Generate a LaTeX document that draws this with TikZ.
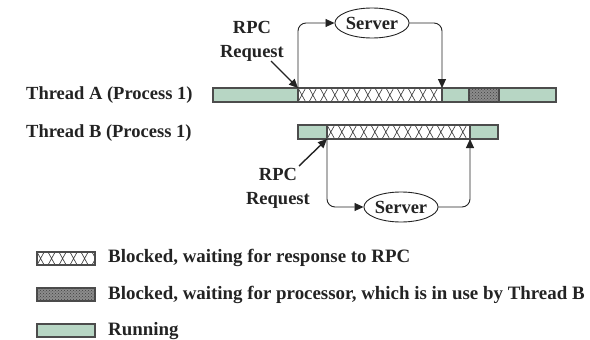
\documentclass[tikz,border=0pt]{standalone}
\usepackage{fontspec}
\setmainfont{Liberation Serif}
\usetikzlibrary{arrows.meta,shapes.geometric,patterns}
\definecolor{runclr}{RGB}{183,214,196}
\definecolor{inkclr}{RGB}{35,35,35}
\begin{document}
\begin{tikzpicture}[x=1pt,y=-1pt,
  lbl/.style={font=\fontsize{18.5}{24}\selectfont\bfseries, text=inkclr, inner sep=0pt},
  keylbl/.style={lbl, font=\fontsize{18.9}{24}\selectfont\bfseries, anchor=west},
  seg/.style={draw=black!70, line width=1.1pt, minimum height=14pt, inner sep=0pt,
              outer sep=0pt, anchor=north west},
  run/.style={seg, fill=runclr},
  procwait/.style={seg, fill=black!45, postaction={pattern=crosshatch dots, pattern color=black!75}},
  rpcwait/.style={seg, fill=white, path picture={
      \foreach \k in {0,...,16} {
        \draw[black!80, line width=0.6pt]
          ([xshift=\k*11pt]path picture bounding box.north west) -- ++(11pt,-20pt)
          ([xshift=\k*11pt]path picture bounding box.south west) -- ++(11pt,20pt);
      }}},
  conn/.style={draw=inkclr, line width=0.9pt, rounded corners=8pt},
  tip/.style={-{Triangle[length=9pt,width=8pt]}},
  srv/.style={ellipse, draw=inkclr, line width=0.9pt, minimum width=70pt, minimum height=30pt,
              inner sep=0pt, font=\fontsize{18.5}{22}\selectfont\bfseries, text=inkclr},
]
\useasboundingbox (0,0) rectangle (590,340);

% thread labels
\node[lbl, anchor=west] (tA) at (26,95) {Thread A (Process 1)};
\node[lbl, anchor=west] (tB) at (26,133) {Thread B (Process 1)};

% thread A timeline
\node[run, minimum width=85pt] (a1) at (213,88) {};
\node[rpcwait, minimum width=144pt] (a2) at (298,88) {};
\node[run, minimum width=27pt] (a3) at (442,88) {};
\node[procwait, minimum width=30pt] (a4) at (469,88) {};
\node[run, minimum width=57pt] (a5) at (499,88) {};

% thread B timeline
\node[run, minimum width=29pt] (b1) at (298,125) {};
\node[rpcwait, minimum width=143pt] (b2) at (327,125) {};
\node[run, minimum width=28pt] (b3) at (470,125) {};

% servers
\node[srv] (srvA) at (372,23) {Server};
\node[srv] (srvB) at (401,207) {Server};

% RPC request labels
\node[lbl, align=center] (reqA) at (252,41) {RPC\\Request};
\node[lbl, align=center] (reqB) at (278,188) {RPC\\Request};
\coordinate (reqAtail) at (271,61);
\coordinate (reqBtail) at (299,166);

% request / reply paths
\draw[conn, tip] (a2.north west) |- (srvA.west);
\draw[conn, tip] (srvA.east) -| (a3.north west);
\draw[conn, tip] (b2.south west) |- (srvB.west);
\draw[conn, tip] (srvB.east) -| (b3.south west);
\draw[inkclr, line width=1.4pt, tip] (reqAtail) -- (a2.north west);
\draw[inkclr, line width=1.4pt, tip] (reqBtail) -- (b2.south west);

% legend
\node[rpcwait, minimum width=58pt, minimum height=13pt] (k1) at (37,252) {};
\node[procwait, minimum width=58pt, minimum height=13pt] (k2) at (37,288) {};
\node[run, minimum width=58pt, minimum height=13pt] (k3) at (37,324) {};
\node[keylbl] (k1t) at (108,258) {Blocked, waiting for response to RPC};
\node[keylbl] (k2t) at (108,295) {Blocked, waiting for processor, which is in use by Thread B};
\node[keylbl] (k3t) at (108,331) {Running};
\end{tikzpicture}
\end{document}
